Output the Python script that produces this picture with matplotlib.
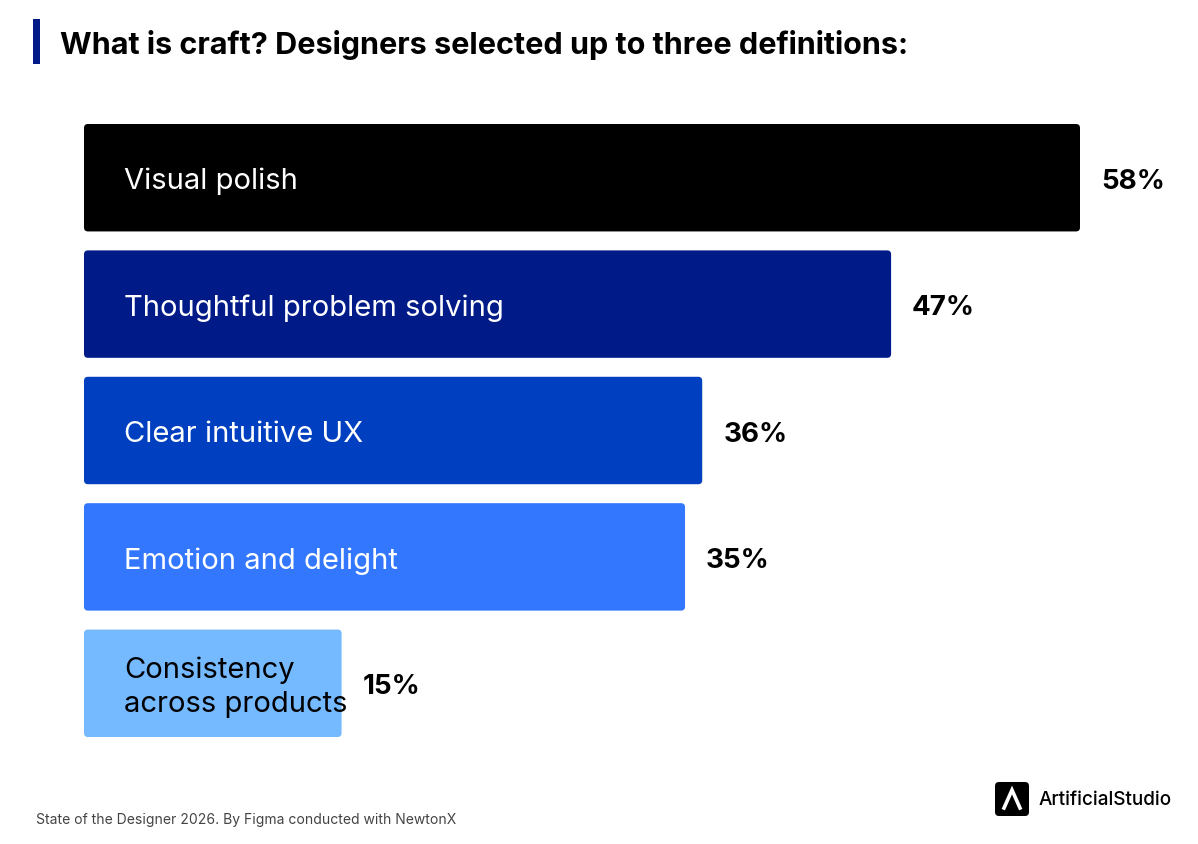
import matplotlib
matplotlib.use("Agg")
import matplotlib.pyplot as plt
from matplotlib.patches import FancyBboxPatch, Rectangle
from matplotlib.lines import Line2D

categories = ["Visual polish", "Thoughtful problem solving", "Clear intuitive UX",
              "Emotion and delight", "Consistency\nacross products"]
values = [58, 47, 36, 35, 15]
colors = ["#000000", "#001A88", "#0040C0", "#3377FF", "#75B9FF"]
text_colors = ["white", "white", "white", "white", "black"]
title = "What is craft? Designers selected up to three definitions:"
source = "State of the Designer 2026. By Figma conducted with NewtonX"
brand = "ArtificialStudio"

W, H = 1198, 845
fig = plt.figure(figsize=(W / 100, H / 100), dpi=100)
plt.rcParams['font.family'] = ['Inter', 'DejaVu Sans']

def fx(px):
    return px / W

def fy(py):
    return 1 - py / H

# axes in pixel placement
left_px, right_px = 84, 1080
top_px, bot_px = 125, 738
ax = fig.add_axes([fx(left_px), fy(bot_px), fx(right_px - left_px), (bot_px - top_px) / H])
bh = 0.85
ax.set_xlim(0, max(values))
ax.set_ylim(len(values) - 1 + bh / 2, -bh / 2)
ax.axis("off")

xpp = max(values) / (right_px - left_px)
ypp = (len(values) - 1 + bh) / (bot_px - top_px)
r_px = 4
bars = ax.barh(range(len(values)), values, height=bh, color=colors)
for b, c in zip(bars, colors):
    b.set_visible(False)
    p = FancyBboxPatch((b.get_x(), b.get_y()), b.get_width(), b.get_height(),
                       boxstyle=f"round,pad=0,rounding_size={r_px * xpp}",
                       mutation_aspect=ypp / xpp, facecolor=c, edgecolor="none")
    ax.add_patch(p)

dy = 3 * ypp
for i, (cat, v, tc) in enumerate(zip(categories, values, text_colors)):
    ax.text(40 * xpp, i + dy, cat, color=tc, fontsize=21, va="center", ha="left",
            linespacing=1.32, clip_on=False)
    ax.text(v + 21 * xpp, i + dy, f"{v}%", color="black", fontsize=20, fontweight="bold",
            va="center", ha="left", clip_on=False)

# title with accent bar
fig.add_artist(Rectangle((fx(33), fy(65)), fx(7), (65 - 20) / H, facecolor="#001A88",
                         edgecolor="none", transform=fig.transFigure))
fig.text(fx(60), fy(45), title, fontsize=22, fontweight="bold", va="center", ha="left",
         color="black")

# footer
fig.text(fx(36), fy(820), source, fontsize=10.05, color="#444444", va="center", ha="left")

# logo
fig.add_artist(FancyBboxPatch((fx(995), fy(817)), fx(34), 34 / H,
                              boxstyle=f"round,pad=0,rounding_size={fx(4)}",
                              mutation_aspect=W / H, facecolor="black", edgecolor="none",
                              transform=fig.transFigure))
fig.add_artist(Line2D([fx(1004), fx(1012), fx(1020)], [fy(809), fy(791), fy(809)],
                      color="white", lw=2.6, solid_joinstyle="miter",
                      transform=fig.transFigure))
fig.text(fx(1039), fy(800), brand, fontsize=13.6, fontweight="medium", color="black",
         va="center", ha="left")

fig.savefig("out.png", dpi=100, facecolor="white")
